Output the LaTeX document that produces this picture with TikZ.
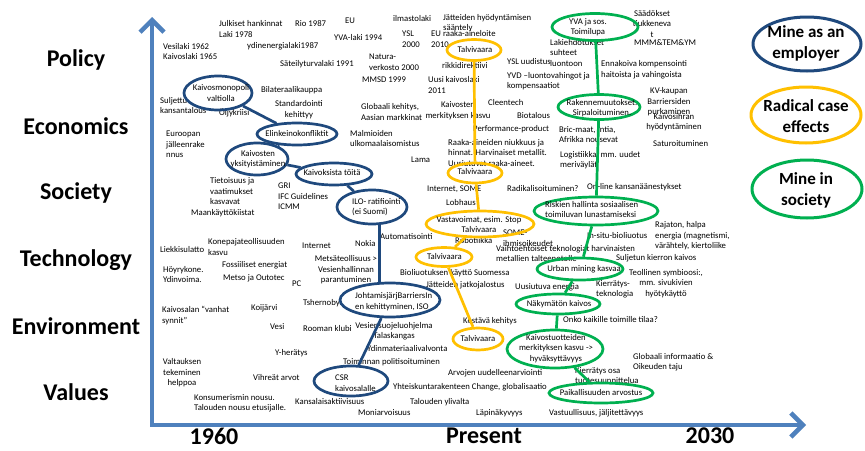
\documentclass[tikz,border=0pt]{standalone}
\usepackage{fontspec}
\setmainfont{Carlito}
\usetikzlibrary{shapes.geometric,arrows.meta,calc}
\definecolor{navy}{RGB}{31,73,125}
\definecolor{gold}{RGB}{255,192,0}
\definecolor{leaf}{RGB}{0,176,80}
\definecolor{axisblue}{RGB}{79,129,189}
\begin{document}
\begin{tikzpicture}[x=1pt,y=-1pt,
  small/.style={font=\fontsize{8.7}{10.5}\selectfont, inner sep=0pt, align=left, anchor=west},
  smallc/.style={font=\fontsize{8.7}{10.5}\selectfont, inner sep=0pt, align=center},
  cat/.style={font=\fontsize{24}{28}\selectfont\bfseries, inner sep=0pt},
  legtext/.style={font=\fontsize{17}{21}\selectfont\bfseries, align=center, inner sep=0pt},
  oval/.style={ellipse, draw, line width=2.7pt, inner sep=0pt},
  navyoval/.style={oval, draw=navy},
  goldoval/.style={oval, draw=gold},
  leafoval/.style={oval, draw=leaf},
  legoval/.style={line width=3pt},
  link/.style={line width=2.7pt},
  axis/.style={draw=axisblue, line width=4.5pt, line join=miter}]
\useasboundingbox (0,0) rectangle (865,450);
\fill[white] (0,0) rectangle (865,450);

% ---------- axes ----------
\coordinate (ytip) at (152,17);
\coordinate (origin) at (152,425);
\coordinate (xtip) at (806,425);
\draw[axis, {Straight Barb[length=12pt,width=24pt]}-{Straight Barb[length=12pt,width=24pt]}]
  (ytip) -- (origin) -- (xtip);

% ---------- category labels ----------
\node[cat] (lpol) at (76,60) {Policy};
\node[cat] (leco) at (76,126) {Economics};
\node[cat] (lsoc) at (76,193) {Society};
\node[cat] (ltec) at (76,260) {Technology};
\node[cat] (lenv) at (76,326) {Environment};
\node[cat] (lval) at (76,392) {Values};

\node[cat] (t1960) at (214,436) {1960};
\node[cat] (tnow) at (484,436) {Present};
\node[cat] (t2030) at (710,436) {2030};

% ---------- free texts: policy ----------
\node[small] (julk) at (219,29) {Julkiset hankinnat\\Laki 1978};
\node[small] (rio) at (295,24) {Rio 1987};
\node[small] (eu1) at (345,21) {EU};
\node[small] (ydin) at (247,46) {ydinenergialaki1987};
\node[small] (yva94) at (334,38) {YVA-laki 1994};
\node[small] (vesi62) at (163,51.5) {Vesilaki 1962\\Kaivoslaki 1965};
\node[small] (sateily) at (280,64) {Säteilyturvalaki 1991};
\node[small] (ilmasto) at (393,19) {ilmastolaki};
\node[small] (jatteet) at (443,23) {Jätteiden hyödyntämisen\\sääntely};
\node[small] (ysl2000) at (402,39) {YSL\\2000};
\node[small] (euraaka) at (431,39) {EU raaka-aineloite\\2010};
\node[small] (natura) at (369,62) {Natura-\\verkosto 2000};
\node[small] (rikki) at (442,66) {rikkidirektiivi};
\node[small] (mmsd) at (362,80) {MMSD 1999};
\node[small] (uusikl) at (428,85) {Uusi kaivoslaki\\2011};
\node[small] (yslu) at (507,62) {YSL uudistus};
\node[small] (yvd) at (507,81) {YVD –luontovahingot ja\\kompensaatiot};
\node[smallc] (saad) at (652,24) {Säädökset\\tiukkeneva\\t};
\node[small] (mmm) at (634,43) {MMM\&TEM\&YM};
\node[small] (lakie) at (550,53) {Lakiehdotukset\\suhteet\\luontoon};
\node[small] (ennak) at (601,69.5) {Ennakoiva kompensointi\\haitoista ja vahingoista};

% ---------- free texts: economics ----------
\node[small] (bilat) at (261,90) {Bilateraalikauppa};
\node[small] (sulj) at (160,105.5) {Suljettu\\kansantalous};
\node[smallc] (stand) at (299,109.5) {Standardointi\\kehittyy};
\node[small] (oljy) at (219,113) {Öljykriisi};
\node[small] (euro) at (166,144.5) {Euroopan\\jälleenrake\\nnus};
\node[small] (malm) at (350,138.5) {Malmioiden\\ulkomaalaisomistus};
\node[small] (glob) at (361,112) {Globaali kehitys,\\Aasian markkinat};
\node[smallc] (kaivm) at (458,110.5) {Kaivosten\\merkityksen kasvu};
\node[small] (clean) at (488,103) {Cleentech};
\node[small] (bio) at (517,116) {Biotalous};
\node[small] (perf) at (473,129) {Performance-product};
\node[small] (raaka) at (448,153) {Raaka-aineiden niukkuus ja\\hinnat. Harvinaiset metallit.\\Uusiutuvat raaka-aineet.};
\node[small] (lama) at (411,160) {Lama};
\node[smallc] (kv) at (669,102) {KV-kaupan\\Barriersiden\\purkaminen};
\node[smallc] (kaivosih) at (674,122) {Kaivosihran\\hyödyntäminen};
\node[small] (satur) at (653,144) {Saturoituminen};
\node[small] (bric) at (559,134.5) {Bric-maat, Intia,\\Afrikka nousevat};
\node[small] (logis) at (560,160) {Logistiikka, mm. uudet\\meriväylät};

% ---------- free texts: society ----------
\node[small] (tieto) at (210,191.5) {Tietoisuus ja\\vaatimukset\\kasvavat};
\node[small] (maank) at (191,213) {Maankäyttökiistat};
\node[small] (gri) at (278,196.5) {GRI\\IFC Guidelines\\ICMM};
\node[small] (inetsome) at (427,189) {Internet, SOME};
\node[small] (lobh) at (446,203) {Lobhaus};
\node[small] (radik) at (507,189) {Radikalisoituminen?};
\node[small] (online) at (587,187) {On-line kansanäänestykset};

% ---------- free texts: technology ----------
\node[small] (kone) at (208,247) {Konepajateollisuuden\\kasvu};
\node[small] (liekki) at (160,250) {Liekkisulatto};
\node[small] (internet) at (302,246) {Internet};
\node[small] (nokia) at (355,244) {Nokia};
\node[small] (autom) at (380,237) {Automatisointi};
\node[small] (hoyry) at (163,274.5) {Höyrykone.\\Ydinvoima.};
\node[small] (fossi) at (222,265) {Fossiiliset energiat};
\node[small] (metso) at (223,278) {Metso ja Outotec};
\node[small] (pc) at (292,284) {PC};
\node[smallc] (metsa) at (346,270) {Metsäteollisuus >\\Vesienhallinnan\\parantuminen};
\node[small] (robo) at (455,241) {Robotiikka};
\node[small] (some) at (503,238) {SOME-\\ihmisoikeudet};
\node[small] (vaihto) at (496,253.5) {Vaihtoehtoiset teknologiat harvinaisten\\metallien talteenotolle};
\node[small] (rajaton) at (655,235.7) {Rajaton, halpa\\energia (magnetismi,\\värähtely, kiertoliike};
\node[small] (insitu) at (587,236) {In-situ-bioliuotus};
\node[small] (suljk) at (616,258) {Suljetun kierron kaivos};
\node[small] (bioliu) at (400,273) {Bioliuotuksen käyttö Suomessa};
\node[small] (jattj) at (426,285) {Jätteiden jatkojalostus};
\node[small] (uusiut) at (515,287) {Uusiutuva energia};
\node[small] (kierr) at (596,289.5) {Kierrätys-\\teknologia};
\node[smallc] (teoll) at (666,283.5) {Teollinen symbioosi:,\\mm. sivukivien\\hyötykäyttö};

% ---------- free texts: environment ----------
\node[small] (vanhat) at (162,315.5) {Kaivosalan “vanhat\\synnit”};
\node[small] (koij) at (251,308) {Koijärvi};
\node[small] (tsher) at (303,303) {Tshernobyl};
\node[small] (vesi) at (270,327) {Vesi};
\node[small] (rooma) at (303,329) {Rooman klubi};
\node[smallc] (vesiens) at (394,331) {Vesiensuojeluohjelma\\Talaskangas};
\node[small] (kestava) at (463,321) {Kestävä kehitys};
\node[small] (onko) at (563,320) {Onko kaikille toimille tilaa?};

% ---------- free texts: values ----------
\node[small] (yher) at (275,353) {Y-herätys};
\node[smallc] (valt) at (182,373) {Valtauksen\\tekeminen\\helppoa};
\node[small] (vihr) at (253,378) {Vihreät arvot};
\node[small] (toim) at (343,362) {Toiminnan politisoituminen};
\node[small] (ydinm) at (367,349) {Ydinmateriaalivalvonta};
\node[small] (konsu) at (194,403) {Konsumerismin nousu.\\Talouden nousu etusijalle.};
\node[small] (kansal) at (295,402) {Kansalaisaktiivisuus};
\node[small] (moni) at (358,413) {Moniarvoisuus};
\node[small] (talyl) at (410,402) {Talouden ylivalta};
\node[small] (yhteis) at (393,387) {Yhteiskuntarakenteen Change, globalisaatio};
\node[small] (arvoj) at (448,373) {Arvojen uudelleenarviointi};
\node[small] (lapin) at (476,413) {Läpinäkyvyys};
\node[small] (globinf) at (633,362) {Globaali informaatio \&\\Oikeuden taju};
\node[small] (kierrosa) at (575,375.5) {Kierrätys osa\\tuotesuunnittelua};
\node[small] (vastuu) at (549,413) {Vastuullisuus, jäljitettävyys};

% ---------- mine as an employer ----------
\node[navyoval, minimum width=68, minimum height=34] (kmono) at (218,93) {};
\node[navyoval, minimum width=80, minimum height=22] (elink) at (297,134) {};
\node[navyoval, minimum width=62, minimum height=32] (kyks) at (257,159) {};
\node[navyoval, minimum width=76, minimum height=22] (ktoit) at (334,174) {};
\node[navyoval, minimum width=70, minimum height=34] (ilo) at (372,207) {};
\node[navyoval, minimum width=100, minimum height=34] (johto) at (390,300) {};
\node[navyoval, minimum width=74, minimum height=30] (csr) at (351,381) {};
\draw[link, navy] (kmono) -- (elink);
\draw[link, navy] (elink) -- (kyks);
\draw[link, navy] (kyks) -- (ktoit);
\draw[link, navy] (ktoit) -- (ilo);
\draw[link, navy] (ilo.-67) -- (ilo.-67 |- johto.north);
\draw[link, navy] (johto) -- (csr);
\node[smallc] (kmono-t) at (221,93) {Kaivosmonopoli\\valtiolla};
\node[smallc] (elink-t) at (297,134) {Elinkeinokonfliktit};
\node[smallc] (kyks-t) at (258,159) {Kaivosten\\yksityistäminen};
\node[smallc] (ktoit-t) at (332,173) {Kaivoksista töitä};
\node[small] (ilo-t) at (352,207) {ILO- ratifiointi\\(ei Suomi)};
\node[small] (johto-t) at (355,301.5) {JohtamisjärjBarriersIn\\en kehittyminen, ISO};
\node[small] (csr-t) at (335,383) {CSR\\kaivosalalle};

% ---------- radical case effects ----------
\node[goldoval, minimum width=54, minimum height=21] (tv1) at (474,50) {};
\node[goldoval, minimum width=54, minimum height=20] (tv2) at (475,173) {};
\node[goldoval, minimum width=108, minimum height=26] (vasta) at (480,224) {};
\node[goldoval, minimum width=56, minimum height=19] (tv3) at (444,257) {};
\node[goldoval, minimum width=50, minimum height=22] (tv4) at (478,339) {};
\draw[link, gold] (tv1) -- (tv2);
\draw[link, gold] (tv2) -- (vasta);
\draw[link, gold] (vasta) -- (tv3);
\draw[link, gold] (tv3) -- (tv4);
\node[smallc] (tv1-t) at (475,50) {Talvivaara};
\node[smallc] (tv2-t) at (475,172) {Talvivaara};
\node[smallc] (vasta-t) at (479,224.5) {Vastavoimat, esim. Stop\\Talvivaara};
\node[smallc] (tv3-t) at (444.5,257) {Talvivaara};
\node[smallc] (tv4-t) at (478,339) {Talvivaara};

% ---------- mine in society ----------
\node[leafoval, minimum width=86, minimum height=27] (yva) at (595,27) {};
\node[leafoval, minimum width=82, minimum height=25] (rakenne) at (599,107) {};
\node[leafoval, minimum width=124, minimum height=28] (riski) at (596,211) {};
\node[leafoval, minimum width=86, minimum height=22] (urban) at (580,269) {};
\node[leafoval, minimum width=84, minimum height=20] (nakym) at (558,304) {};
\node[leafoval, minimum width=96, minimum height=38] (kaivtuot) at (555,349) {};
\node[leafoval, minimum width=104, minimum height=20] (paik) at (601,393) {};
\draw[link, leaf] (yva) -- (rakenne);
\draw[link, leaf] (rakenne) -- (riski);
\draw[link, leaf] (riski) -- (urban);
\draw[link, leaf] (urban) -- (nakym);
\draw[link, leaf] (nakym) -- (kaivtuot);
\draw[link, leaf] (kaivtuot) -- (paik);
\node[smallc] (yva-t) at (588,27) {YVA ja sos.\\Toimilupa};
\node[smallc] (rakenne-t) at (602,108) {Rakennemuutokset.\\Sirpaloituminen.};
\node[small] (riski-t) at (545,209.5) {Riskien hallinta sosiaalisen\\toimiluvan lunastamiseksi};
\node[smallc] (urban-t) at (584,269) {Urban mining kasvaa};
\node[smallc] (nakym-t) at (559,304) {Näkymätön kaivos};
\node[smallc] (kaivtuot-t) at (556,348.5) {Kaivostuotteiden\\merkityksen kasvu ->\\hyväksyttävyys};
\node[smallc] (paik-t) at (601,393) {Paikallisuuden arvostus};

% ---------- legend ----------
\node[navyoval, legoval, minimum width=108, minimum height=54] (legA) at (807,44) {};
\node[goldoval, legoval, minimum width=110, minimum height=56] (legB) at (806,115) {};
\node[leafoval, legoval, minimum width=110, minimum height=58] (legC) at (807,189) {};
\node[legtext] (legA-t) at (806,43) {Mine as an\\employer};
\node[legtext] (legB-t) at (806,116) {Radical case\\effects};
\node[legtext] (legC-t) at (806,190) {Mine in\\society};
\end{tikzpicture}
\end{document}
